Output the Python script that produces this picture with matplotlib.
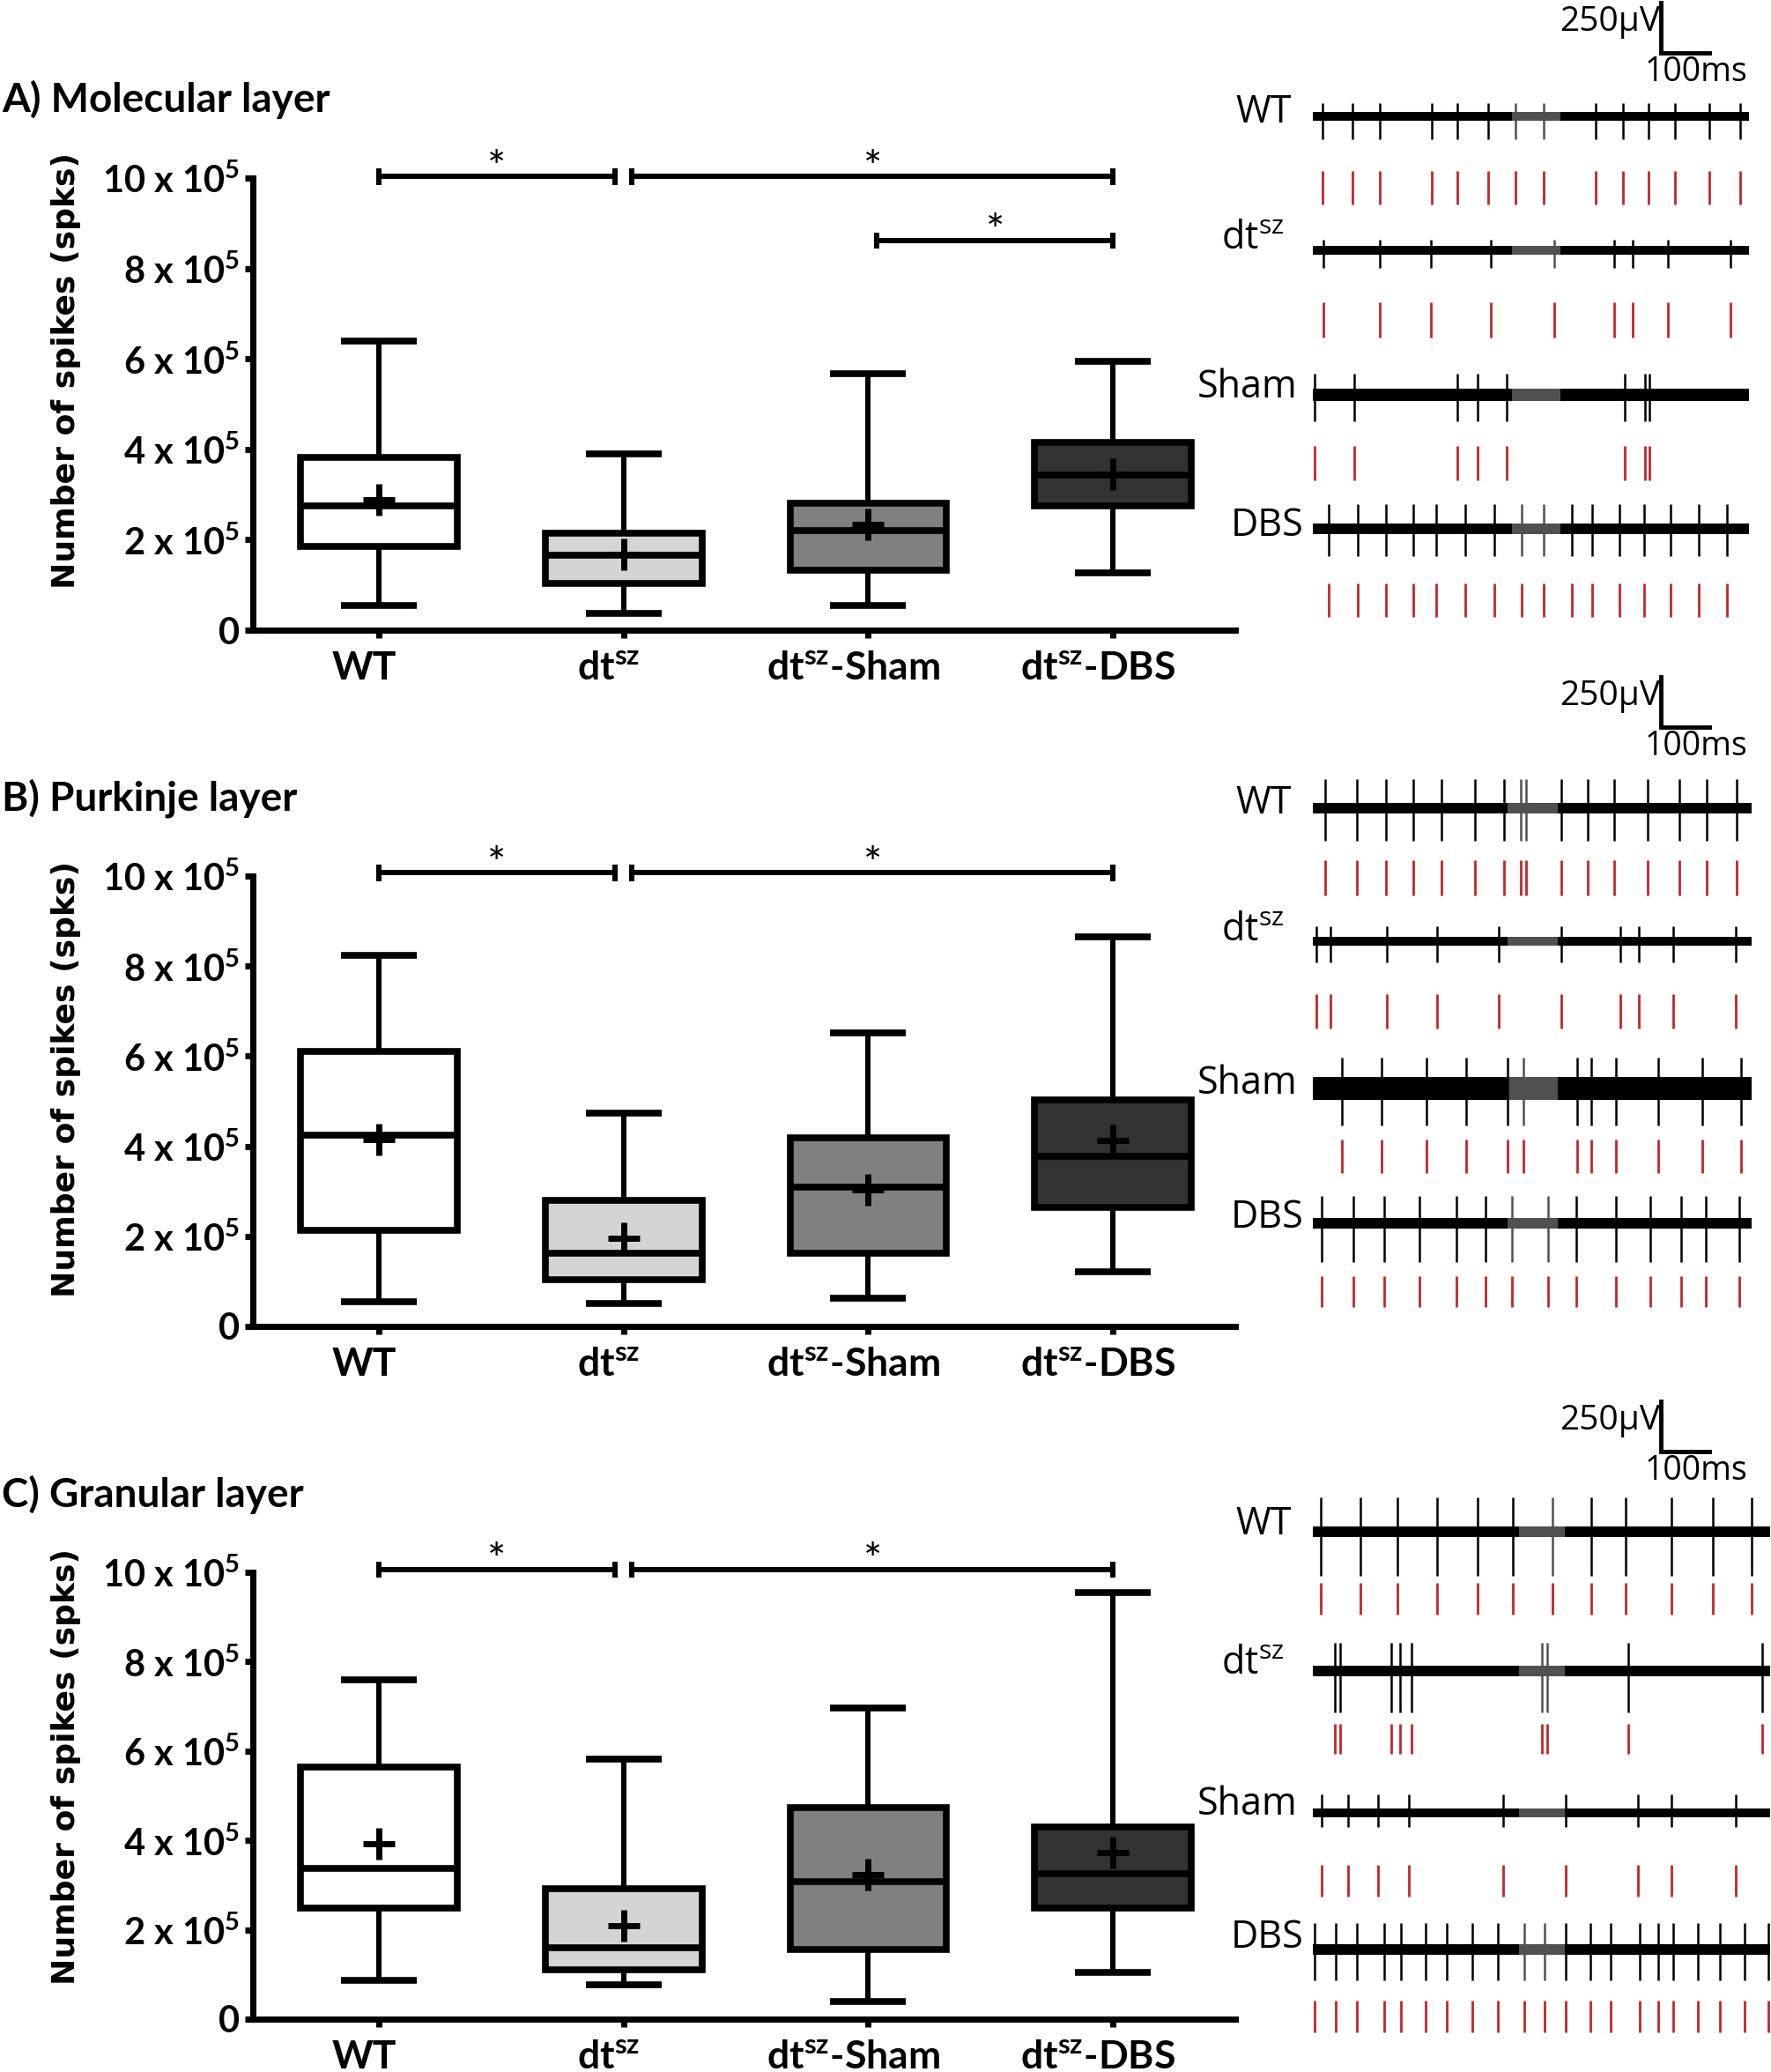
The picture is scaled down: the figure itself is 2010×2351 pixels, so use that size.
import matplotlib
matplotlib.use('Agg')
import matplotlib.pyplot as plt
from matplotlib.transforms import ScaledTranslation

W, H = 2010, 2351

plt.rcParams['font.family'] = ['Lato', 'DejaVu Sans']
plt.rcParams['mathtext.fontset'] = 'custom'
plt.rcParams['mathtext.rm'] = 'Open Sans'
plt.rcParams['mathtext.bf'] = 'Lato:bold'

# box plot data, in units of 10^5 spikes
group_labels = ['WT', r'dt$^{\mathbf{sz}}$', r'dt$^{\mathbf{sz}}$-Sham', r'dt$^{\mathbf{sz}}$-DBS']
box_colors = ['white', '#d4d4d4', '#808080', '#333333']

mol_whislo = [0.55, 0.38, 0.55, 1.27]
mol_q1 = [1.86, 1.04, 1.33, 2.74]
mol_med = [2.75, 1.65, 2.20, 3.43]
mol_q3 = [3.82, 2.15, 2.81, 4.16]
mol_whishi = [6.40, 3.90, 5.68, 5.94]
mol_mean = [2.88, 1.67, 2.33, 3.46]

pur_whislo = [0.55, 0.51, 0.62, 1.21]
pur_q1 = [2.14, 1.04, 1.63, 2.65]
pur_med = [4.25, 1.63, 3.09, 3.77]
pur_q3 = [6.10, 2.79, 4.19, 5.03]
pur_whishi = [8.23, 4.74, 6.52, 8.64]
pur_mean = [4.14, 1.95, 3.04, 4.13]

gra_whislo = [0.86, 0.76, 0.39, 1.05]
gra_q1 = [2.48, 1.11, 1.55, 2.48]
gra_med = [3.38, 1.60, 3.07, 3.25]
gra_q3 = [5.64, 2.92, 4.74, 4.29]
gra_whishi = [7.60, 5.82, 6.96, 9.55]
gra_mean = [3.92, 2.10, 3.24, 3.73]

# significance comparisons (group index pairs) and bar heights
mol_sig = [(0, 1), (1, 3), (2, 3)]
mol_sig_y = [10.03, 10.03, 8.62]
pur_sig = [(0, 1), (1, 3)]
pur_sig_y = [10.07, 10.07]
gra_sig = [(0, 1), (1, 3)]
gra_sig_y = [10.06, 10.06]

ytick_vals = [0, 2, 4, 6, 8, 10]
ytick_labels = ['0'] + ['%d x 10$^{\\mathbf{5}}$' % v for v in ytick_vals[1:]]

# example recordings: spike times (ms)
trace_names = ['WT', r'dt$^{\mathrm{sz}}$', 'Sham', 'DBS']
mol_spk_wt = [20, 82, 138, 246, 298, 361, 418, 476, 584, 640, 692, 748, 818, 882]
mol_spk_dt = [22, 139, 243, 368, 498, 622, 660, 733, 861]
mol_spk_sham = [3, 86, 299, 340, 400, 643, 686, 695]
mol_spk_dbs = [32, 92, 150, 207, 255, 315, 375, 430, 477, 535, 576, 632, 684, 739, 797, 855]

pur_spk_wt = [25, 90, 151, 208, 265, 334, 394, 429, 440, 513, 568, 621, 691, 757, 813, 875]
pur_spk_dt = [7, 36, 152, 257, 383, 512, 635, 672, 743, 872]
pur_spk_sham = [60, 142, 235, 316, 401, 435, 545, 574, 626, 713, 804, 884]
pur_spk_dbs = [18, 84, 147, 220, 296, 356, 411, 485, 543, 625, 697, 760, 810, 880]

gra_spk_wt = [16, 98, 174, 256, 340, 413, 495, 575, 645, 740, 825, 905]
gra_spk_dt = [45, 57, 162, 180, 203, 472, 483, 651, 927]
gra_spk_sham = [18, 72, 135, 199, 393, 521, 670, 740, 873]
gra_spk_dbs = [4, 48, 90, 148, 182, 233, 277, 329, 382, 436, 479, 522, 573, 614, 674,
               713, 744, 795, 840, 891, 940]

# trace duration (ms), noise band half width / spike heights (uV)
mol_dur = 900
pur_dur = 906
gra_dur = 944
mol_gray = (410, 510)
pur_gray = (402, 505)
gra_gray = (425, 520)
mol_band = [24, 22, 31, 26]
mol_up = [66, 53, 105, 123]
mol_down = [114, 88, 132, 136]
pur_band = [28, 22, 57, 28]
pur_up = [145, 75, 154, 136]
pur_down = [162, 105, 184, 193]
gra_band = [26, 28, 22, 28]
gra_up = [171, 140, 92, 132]
gra_down = [220, 206, 70, 154]

fig = plt.figure(figsize=(W / 100, H / 100), dpi=100)


def fx(px):
    return px / W


def fy(py):
    return 1 - py / H


def box_panel(title, title_y, top, bottom, ylab_y, whislo, q1, med, q3, whishi, mean, sig, sig_y):
    ax = fig.add_axes([fx(287), fy(bottom), fx(1402 - 287), (bottom - top) / H])
    stats = []
    for i in range(4):
        stats.append(dict(whislo=whislo[i], q1=q1[i], med=med[i], q3=q3[i],
                          whishi=whishi[i], mean=mean[i], fliers=[]))
    bp = ax.bxp(stats, positions=[1, 2, 3, 4], widths=0.64, capwidths=0.31,
                patch_artist=True, showmeans=True, showfliers=False,
                boxprops=dict(linewidth=5.5, edgecolor='black'),
                whiskerprops=dict(linewidth=4.3, color='black', solid_capstyle='butt'),
                capprops=dict(linewidth=5.5, color='black', solid_capstyle='butt'),
                medianprops=dict(linewidth=5.5, color='black', solid_capstyle='butt'),
                meanprops=dict(marker='+', markersize=26, markeredgewidth=5,
                               markeredgecolor='black'))
    for patch, c in zip(bp['boxes'], box_colors):
        patch.set_facecolor(c)

    ax.set_xlim(0.485, 4.5)
    ax.set_ylim(0, 10)
    for s in ['top', 'right']:
        ax.spines[s].set_visible(False)
    for s in ['left', 'bottom']:
        ax.spines[s].set_linewidth(5)
    ax.set_yticks(ytick_vals)
    ax.set_yticklabels(ytick_labels, fontsize=30, fontweight='bold')
    ax.set_xticks([1, 2, 3, 4])
    ax.set_xticklabels(group_labels, fontsize=32, fontweight='bold')
    ax.tick_params(axis='y', width=5, length=6.5, pad=4)
    ax.tick_params(axis='x', width=5, length=6.5, pad=10)
    shift = ScaledTranslation(-0.17, 0, fig.dpi_scale_trans)
    for lab in ax.get_xticklabels():
        lab.set_transform(lab.get_transform() + shift)

    for (i, j), y in zip(sig, sig_y):
        x1 = i + 1 + (0 if i == 0 else 0.035)
        x2 = j + 1 - (0 if j == 3 else 0.035)
        ax.plot([x1, x2], [y, y], color='black', lw=4.3, clip_on=False, solid_capstyle='butt')
        for xe in (x1, x2):
            ax.plot([xe, xe], [y - 0.18, y + 0.18], color='black', lw=4.3, clip_on=False,
                    solid_capstyle='butt')
        ax.text((x1 + x2) / 2, y - 0.12, '*', ha='center', va='baseline', fontsize=36,
                clip_on=False)

    fig.text(fx(2), fy(title_y), title, ha='left', va='baseline', fontsize=33,
             fontweight='bold')
    fig.text(fx(75), fy(ylab_y), 'Number of spikes (spks)', rotation=90, ha='center',
             va='center', fontsize=26, fontweight='bold', family='DejaVu Sans')


PX_MS = 0.55
PX_UV = 0.228
T0 = 1490


def trace_panel(top, bottom, sb_y, rows, rasters, label_y, spikes, dur, gray, band, up, down):
    ax = fig.add_axes([fx(1480), fy(bottom), fx(W - 1480), (bottom - top) / H])
    ax.set_xlim((1480 - T0) / PX_MS, (W - T0) / PX_MS)
    ax.set_ylim(-(bottom - top) / PX_UV, 0)
    ax.axis('off')

    def uv(py):
        return -(py - top) / PX_UV

    for k in range(4):
        base = uv(rows[k])
        ax.fill_between([0, dur], base - band[k], base + band[k], color='black', lw=0)
        ax.fill_between(gray, base - band[k], base + band[k], color='#505050', lw=0)
        cols = ['#505050' if gray[0] <= t <= gray[1] else 'black' for t in spikes[k]]
        ax.vlines(spikes[k], base - down[k], base + up[k], colors=cols, lw=1.8)
        ax.vlines(spikes[k], uv(rasters[k][1]), uv(rasters[k][0]), colors='#c0262d', lw=2)
        right = [1466, 1457, 1472, 1479][k]
        fig.text(fx(right), fy(label_y[k]), trace_names[k], ha='right', va='center',
                 fontsize=31, family='Open Sans')

    # scale bar 250 uV / 100 ms
    xs = (1885 - T0) / PX_MS
    ybar = uv(sb_y)
    ax.plot([xs, xs, xs + 100], [ybar + 250, ybar, ybar], color='black', lw=3.5,
            solid_joinstyle='miter', clip_on=False)
    fig.text(fx(1884), fy(sb_y - 35), '250\u00b5V', ha='right', va='center', fontsize=28,
             family='Open Sans')
    fig.text(fx(1867), fy(sb_y + 22), '100ms', ha='left', va='center', fontsize=27,
             family='Open Sans')


box_panel('A) Molecular layer', 127, 202, 715, 420,
          mol_whislo, mol_q1, mol_med, mol_q3, mol_whishi, mol_mean, mol_sig, mol_sig_y)
box_panel('B) Purkinje layer', 920, 994, 1505, 1224,
          pur_whislo, pur_q1, pur_med, pur_q3, pur_whishi, pur_mean, pur_sig, pur_sig_y)
box_panel('C) Granular layer', 1710, 1784, 2291, 2004,
          gra_whislo, gra_q1, gra_med, gra_q3, gra_whishi, gra_mean, gra_sig, gra_sig_y)

trace_panel(0, 720, 60, [132, 284, 448, 600],
            [(194, 232), (343, 383), (506, 545), (662, 700)],
            [128, 271, 440, 597],
            [mol_spk_wt, mol_spk_dt, mol_spk_sham, mol_spk_dbs],
            mol_dur, mol_gray, mol_band, mol_up, mol_down)
trace_panel(760, 1500, 825, [917, 1068, 1235, 1388],
            [(976, 1016), (1128, 1167), (1293, 1331), (1448, 1483)],
            [912, 1056, 1230, 1382],
            [pur_spk_wt, pur_spk_dt, pur_spk_sham, pur_spk_dbs],
            pur_dur, pur_gray, pur_band, pur_up, pur_down)
trace_panel(1560, 2330, 1647, [1738, 1896, 2057, 2212],
            [(1796, 1832), (1956, 1990), (2116, 2152), (2270, 2306)],
            [1730, 1888, 2048, 2199],
            [gra_spk_wt, gra_spk_dt, gra_spk_sham, gra_spk_dbs],
            gra_dur, gra_gray, gra_band, gra_up, gra_down)

fig.savefig('out.png', dpi=100)
